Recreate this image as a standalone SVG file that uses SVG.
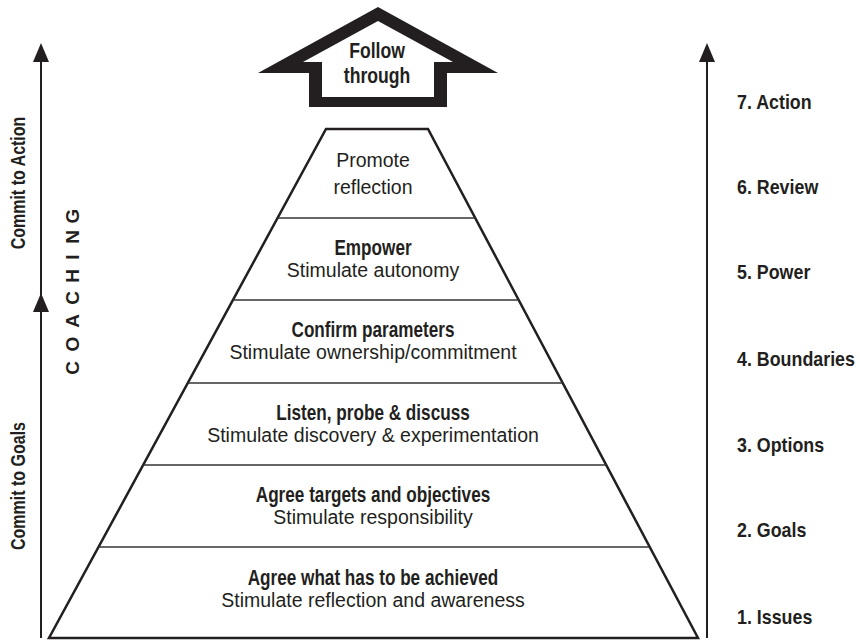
<svg xmlns="http://www.w3.org/2000/svg" width="860" height="641" viewBox="0 0 860 641">
<style>
  text { font-family: "Liberation Sans", Arial, sans-serif; fill: #231f20; }
  .b { font-weight: bold; font-size: 22px; }
  .r { font-size: 19.5px; }
  .lab { font-weight: bold; font-size: 20px; }
  .rl { font-weight: bold; font-size: 21px; }
  .edge { stroke: #231f20; stroke-width: 2.5; fill: none; stroke-linejoin: miter; }
  .div { stroke: #333; stroke-width: 1.4; }
  .ax { stroke: #231f20; stroke-width: 2; fill: none; }
</style>
<defs>
  <marker id="ah" viewBox="0 0 19 16" refX="9" refY="8" markerWidth="19" markerHeight="16" markerUnits="userSpaceOnUse" orient="auto">
    <path d="M0,0 L19,8 L0,16 Z" fill="#231f20"/>
  </marker>
</defs>
<rect width="860" height="641" fill="#fff"/>

<g id="connectors">
  <line class="ax" x1="41" y1="638" x2="41" y2="303" marker-end="url(#ah)"/>
  <line class="ax" x1="41" y1="310" x2="41" y2="53" marker-end="url(#ah)"/>
  <line class="ax" x1="707" y1="638" x2="707" y2="53" marker-end="url(#ah)"/>
</g>

<g id="follow-through">
  <path fill="#231f20" fill-rule="evenodd" d="M378,7 L498,73 L447,73 L447,107 L309,107 L309,73 L258,73 Z M378,21 L453,62 L434,62 L434,97 L322,97 L322,62 L303,62 Z"/>
  <g transform="translate(377,58) scale(0.8,1)"><text class="b" text-anchor="middle">Follow</text></g>
  <g transform="translate(377,83) scale(0.8,1)"><text class="b" text-anchor="middle">through</text></g>
</g>

<g id="pyramid">
  <path class="edge" d="M326,129 L428,129 L698,638 L49,638 Z"/>
  <line class="div" x1="277.6" y1="218" x2="475.2" y2="218"/>
  <line class="div" x1="232.9" y1="300" x2="518.7" y2="300"/>
  <line class="div" x1="187.8" y1="383" x2="562.7" y2="383"/>
  <line class="div" x1="143.1" y1="465" x2="606.2" y2="465"/>
  <line class="div" x1="98.5" y1="547" x2="649.7" y2="547"/>
</g>

<g id="band-7">
  <text class="r" x="373" y="167" text-anchor="middle">Promote</text>
  <text class="r" x="373" y="194" text-anchor="middle">reflection</text>
</g>
<g id="band-6">
  <g transform="translate(373,255) scale(0.78,1)"><text class="b" text-anchor="middle">Empower</text></g>
  <text class="r" x="373" y="277" text-anchor="middle">Stimulate autonomy</text>
</g>
<g id="band-5">
  <g transform="translate(373,337) scale(0.78,1)"><text class="b" text-anchor="middle">Confirm parameters</text></g>
  <text class="r" x="373" y="359" text-anchor="middle">Stimulate ownership/commitment</text>
</g>
<g id="band-4">
  <g transform="translate(373,420) scale(0.78,1)"><text class="b" text-anchor="middle">Listen, probe &amp; discuss</text></g>
  <text class="r" x="373" y="442" text-anchor="middle">Stimulate discovery &amp; experimentation</text>
</g>
<g id="band-3">
  <g transform="translate(373,502) scale(0.78,1)"><text class="b" text-anchor="middle">Agree targets and objectives</text></g>
  <text class="r" x="373" y="524" text-anchor="middle">Stimulate responsibility</text>
</g>
<g id="band-2">
  <g transform="translate(373,585) scale(0.78,1)"><text class="b" text-anchor="middle">Agree what has to be achieved</text></g>
  <text class="r" x="373" y="607" text-anchor="middle">Stimulate reflection and awareness</text>
</g>

<g id="left-labels">
  <g transform="translate(25,183) rotate(-90) scale(0.8,1)"><text class="lab" text-anchor="middle">Commit to Action</text></g>
  <g transform="translate(25,486) rotate(-90) scale(0.8,1)"><text class="lab" text-anchor="middle">Commit to Goals</text></g>
  <g transform="translate(79,0) rotate(-90)"><text class="lab" style="font-size:19px" text-anchor="middle" x="-368 -344 -321 -298 -276 -257 -237 -216" y="0">COACHING</text></g>
</g>

<g id="right-labels">
  <g transform="translate(737,109) scale(0.85,1)"><text class="rl">7. Action</text></g>
  <g transform="translate(737,194) scale(0.85,1)"><text class="rl">6. Review</text></g>
  <g transform="translate(737,279) scale(0.85,1)"><text class="rl">5. Power</text></g>
  <g transform="translate(737,366) scale(0.85,1)"><text class="rl">4. Boundaries</text></g>
  <g transform="translate(737,452) scale(0.85,1)"><text class="rl">3. Options</text></g>
  <g transform="translate(737,537) scale(0.85,1)"><text class="rl">2. Goals</text></g>
  <g transform="translate(737,624) scale(0.85,1)"><text class="rl">1. Issues</text></g>
</g>
</svg>
